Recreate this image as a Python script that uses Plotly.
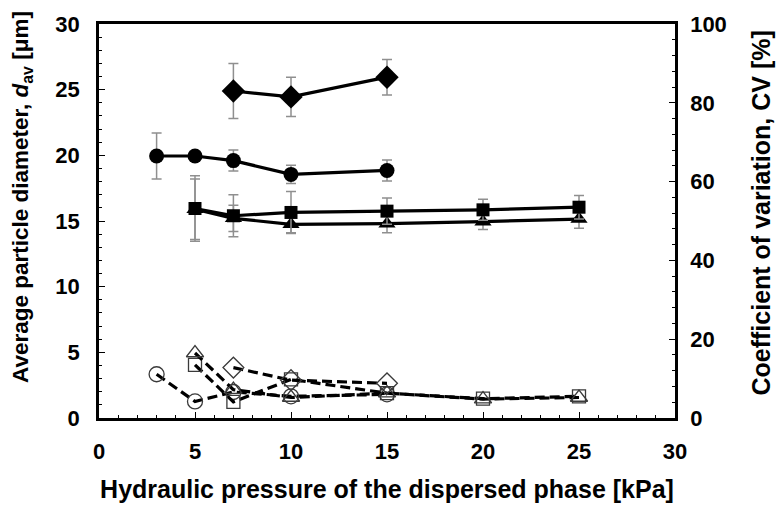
import plotly.graph_objects as go

# ---- data ----
# filled symbols: average particle diameter d_av [um] (left axis)
x_dia = [7, 10, 15]
d_dia = [24.9, 24.45, 25.95]
e_dia = [2.1, 1.5, 1.35]

x_cir = [3, 5, 7, 10, 15]
d_cir = [19.95, 19.95, 19.6, 18.55, 18.85]
e_cir = [1.75, 0.3, 0.8, 0.7, 0.8]

x_sq = [5, 7, 10, 15, 20, 25]
d_sq = [15.95, 15.4, 15.65, 15.75, 15.85, 16.05]
e_sq = [2.5, 1.6, 1.6, 1.0, 0.8, 0.9]

x_tri = [5, 7, 10, 15, 20, 25]
d_tri = [15.9, 15.2, 14.75, 14.8, 14.95, 15.15]
e_tri = [2.3, 1.0, 0.65, 0.7, 0.6, 0.7]

# open symbols: coefficient of variation CV [%] (right axis)
cv_cir = [11.1, 4.2, 6.6, 5.5, 6.0]
cv_sq = [13.5, 4.1, 9.8, 6.3, 4.9, 5.5]
cv_tri = [16.5, 7.2, 5.2, 6.3, 4.8, 5.2]
cv_dia = [12.8, 9.6, 8.8]

x_title = "Hydraulic pressure of the dispersed phase [kPa]"
y_title = "Average particle diameter, <i>d</i><sub>av</sub> [μm]"
y2_title = "Coefficient of variation, CV [%]"

FONT = "Liberation Sans"
ERR = dict(type="data", visible=True, color="#8f8f8f", thickness=1.5, width=5)

fig = go.Figure()

def open_series(x, y, sym, size):
    fig.add_trace(go.Scatter(
        x=x, y=y, yaxis="y2", mode="lines+markers",
        line=dict(color="black", width=3.2, dash="10px,5px"),
        marker=dict(symbol=sym, size=size, color="#3a3a3a",
                    line=dict(width=1.3)),
        showlegend=False))

open_series(x_cir, cv_cir, "circle-open", 15)
open_series(x_sq, cv_sq, "square-open", 13)
open_series(x_tri, cv_tri, "triangle-up-open", 15)
open_series(x_dia, cv_dia, "diamond-open", 16)

def filled_series(x, y, e, sym, size):
    fig.add_trace(go.Scatter(
        x=x, y=y, mode="lines+markers",
        error_y=dict(array=e, **ERR),
        line=dict(color="black", width=3.2),
        marker=dict(symbol=sym, size=size, color="black"),
        showlegend=False))

filled_series(x_tri, d_tri, e_tri, "triangle-up", 15)
filled_series(x_sq, d_sq, e_sq, "square", 13)
filled_series(x_cir, d_cir, e_cir, "circle", 15)
filled_series(x_dia, d_dia, e_dia, "diamond", 18)

tickfont = dict(family=FONT, size=22, color="black", weight="bold")

fig.update_layout(
    width=776, height=512,
    margin=dict(l=99, r=101, t=17, b=94),
    paper_bgcolor="white", plot_bgcolor="white",
    xaxis=dict(
        range=[0, 30], dtick=5, tick0=0,
        showgrid=False, zeroline=False,
        showline=True, linecolor="black", linewidth=2.5, mirror=True,
        ticks="inside", ticklen=6, tickwidth=1, tickcolor="black",
        minor=dict(dtick=1, ticks="inside", ticklen=3, tickcolor="black", showgrid=False),
        tickfont=tickfont, ticklabelstandoff=12,
        title=dict(text="<b>" + x_title + "</b>",
                   font=dict(family=FONT, size=25, color="black"), standoff=18),
    ),
    yaxis=dict(
        range=[0, 30], dtick=5, tick0=0,
        showgrid=False, zeroline=False,
        showline=True, linecolor="black", linewidth=2.5,
        ticks="inside", ticklen=6, tickwidth=1, tickcolor="black",
        minor=dict(dtick=1, ticks="inside", ticklen=3, tickcolor="black", showgrid=False),
        tickfont=tickfont, ticklabelstandoff=12,
    ),
    yaxis2=dict(
        range=[0, 100], dtick=20, tick0=0,
        overlaying="y", side="right",
        showgrid=False, zeroline=False,
        showline=True, linecolor="black", linewidth=2.5,
        ticks="inside", ticklen=6, tickwidth=1, tickcolor="black",
        minor=dict(dtick=4, ticks="inside", ticklen=3, tickcolor="black", showgrid=False),
        tickfont=tickfont, ticklabelstandoff=8,
    ),
    annotations=[
        dict(text="<b>" + y_title + "</b>", textangle=-90,
             xref="paper", yref="paper", x=-0.1337, y=0.561,
             xanchor="center", yanchor="middle", showarrow=False,
             font=dict(family=FONT, size=22.5, color="black")),
        dict(text="<b>" + y2_title + "</b>", textangle=-90,
             xref="paper", yref="paper", x=1.1476, y=0.519,
             xanchor="center", yanchor="middle", showarrow=False,
             font=dict(family=FONT, size=25, color="black")),
    ],
)

fig.write_html("out.html")
